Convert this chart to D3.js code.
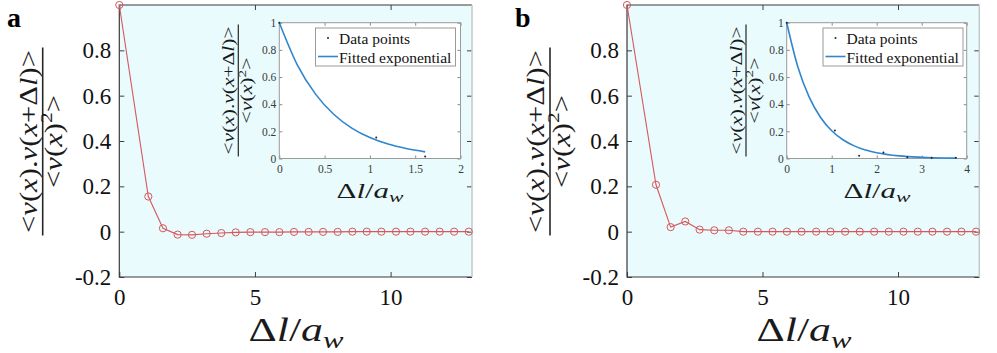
<!DOCTYPE html>
<html>
<head>
<meta charset="utf-8">
<script src="https://cdn.jsdelivr.net/npm/d3@7"></script>
<style>
  body { margin: 0; background: #fff; }
  svg { display: block; font-family: "Liberation Serif", "Times New Roman", serif; }
</style>
</head>
<body>
<script>
// lag values (delta l / a_w) shared by both panels
var lagX = [0, 1.07, 1.61, 2.15, 2.68, 3.22, 3.76, 4.29, 4.83, 5.37, 5.9, 6.44,
            6.98, 7.51, 8.05, 8.59, 9.12, 9.66, 10.2, 10.73, 11.27, 11.81, 12.34, 12.88];
// autocorrelation, panel a and b
var corrA = [1, 0.155, 0.015, -0.013, -0.014, -0.009, -0.006, -0.003, -0.002, -0.002, -0.002, -0.001,
             -0.001, -0.001, -0.001, 0, 0, 0, 0, 0, 0, 0, 0, 0];
var corrB = [1, 0.207, 0.02, 0.045, 0.009, 0.006, 0.006, 0, 0, 0, 0, 0,
             0, 0, 0, 0, 0, 0, 0, 0, 0, 0, 0, 0];
// number of points shown in each inset
var insetCountA = 3, insetCountB = 7;
// fitted exponential
var fitAX = [0, 0.2, 0.4, 0.6, 0.8, 1.0, 1.2, 1.4, 1.61];
var fitAY = [1, 0.688, 0.474, 0.326, 0.224, 0.154, 0.106, 0.073, 0.049];
var fitBX = [0, 0.25, 0.5, 0.75, 1, 1.25, 1.5, 1.75, 2, 2.5, 3, 3.5, 3.76];
var fitBY = [1, 0.672, 0.452, 0.304, 0.204, 0.138, 0.093, 0.062, 0.042, 0.019, 0.009, 0.004, 0.003];
// ticks
var mainXTicks = [0, 5, 10];
var mainYTicks = [-0.2, 0, 0.2, 0.4, 0.6, 0.8];
var insetXTicksA = [0, 0.5, 1, 1.5, 2];
var insetXTicksB = [0, 1, 2, 3, 4];
var insetYTicks = [0, 0.2, 0.4, 0.6, 0.8, 1];
var legendLabels = ["Data points", "Fitted exponential"];

var numPieces = [["<",""],["v","i"],["(",""],["x","i"],[")",""],[".",""],["v","i"],["(",""],["x","i"],
                 ["+",""],["Δ",""],["l","i"],[")",""],[">",""]];
var denPieces = [["<",""],["v","i"],["(",""],["x","i"],[")",""],["2","^"],[">",""]];
var xlabPieces = [["Δ",""],["l","i"],["/",""],["a","i"],["w","i_"]];

var SERIF = "'Liberation Serif', 'Times New Roman', serif";

var svg = d3.select("body").append("svg")
  .attr("width", 997)
  .attr("height", 353);

// writes latex-like text with tspans
function addMath(text, pieces, size) {
  var shift = 0;
  pieces.forEach(function (p) {
    var t = text.append("tspan").text(p[0]);
    var target = 0;
    if (p[1].indexOf("i") >= 0) t.attr("font-style", "italic");
    if (p[1].indexOf("^") >= 0) { t.attr("font-size", size * 0.7); target = -size * 0.42; }
    if (p[1].indexOf("_") >= 0) { t.attr("font-size", size * 0.7); target = size * 0.2; }
    if (target !== shift) { t.attr("dy", target - shift); shift = target; }
  });
}

function fracLabel(g, cfg) {
  g.append("line")
    .attr("x1", cfg.bar).attr("x2", cfg.bar)
    .attr("y1", cfg.cy - cfg.len / 2).attr("y2", cfg.cy + cfg.len / 2)
    .attr("stroke", "#262626").attr("stroke-width", cfg.size > 20 ? 1.6 : 1.2);
  var num = g.append("text")
    .attr("transform", "translate(" + cfg.numBase + "," + cfg.cy + ") rotate(-90)")
    .attr("text-anchor", "middle")
    .attr("font-family", SERIF)
    .attr("font-size", cfg.size)
    .attr("fill", "#1a1a1a")
    .attr("textLength", cfg.numLen).attr("lengthAdjust", "spacingAndGlyphs");
  addMath(num, numPieces, cfg.size);
  var den = g.append("text")
    .attr("transform", "translate(" + cfg.denBase + "," + cfg.cy + ") rotate(-90)")
    .attr("text-anchor", "middle")
    .attr("font-family", SERIF)
    .attr("font-size", cfg.size)
    .attr("fill", "#1a1a1a")
    .attr("textLength", cfg.denLen).attr("lengthAdjust", "spacingAndGlyphs");
  addMath(den, denPieces, cfg.size);
}

function xLabel(g, cx, base, size, len) {
  var t = g.append("text")
    .attr("x", cx).attr("y", base)
    .attr("text-anchor", "middle")
    .attr("font-family", SERIF)
    .attr("font-size", size)
    .attr("fill", "#1a1a1a")
    .attr("textLength", len).attr("lengthAdjust", "spacingAndGlyphs");
  addMath(t, xlabPieces, size);
}

function fmt(d) { return String(+d.toFixed(1)); }

function drawPanel(p) {
  var g = svg.append("g");

  // main axes
  var x = d3.scaleLinear().domain([0, 13]).range([p.left, p.right]);
  var y = d3.scaleLinear().domain([-0.2, 1]).range([277, 5]);

  g.append("rect")
    .attr("x", p.left).attr("y", 5)
    .attr("width", p.right - p.left).attr("height", 272)
    .attr("fill", "#e9fbfc");

  var ax = g.append("g").attr("transform", "translate(0,277)")
    .call(d3.axisBottom(x).tickValues(mainXTicks).tickSize(-5).tickPadding(12).tickFormat(fmt));
  var ay = g.append("g").attr("transform", "translate(" + p.left + ",0)")
    .call(d3.axisLeft(y).tickValues(mainYTicks).tickSize(-5).tickPadding(8).tickFormat(fmt));
  g.append("g").attr("transform", "translate(0,5)")
    .call(d3.axisTop(x).tickValues(mainXTicks).tickSize(-5).tickFormat(""));
  g.append("g").attr("transform", "translate(" + p.right + ",0)")
    .call(d3.axisRight(y).tickValues(mainYTicks).tickSize(-5).tickFormat(""));
  g.selectAll(".domain").remove();
  g.selectAll(".tick line").attr("stroke", "#404040");
  [ax, ay].forEach(function (a) {
    a.attr("font-family", SERIF);
    a.selectAll("text").attr("font-size", 23).attr("fill", "#111");
  });

  // frame
  g.append("path")
    .attr("d", "M" + p.right + ",5H" + p.left + "V277H" + p.right)
    .attr("fill", "none").attr("stroke", "#3a3a3a").attr("stroke-width", 1.2);
  g.append("line")
    .attr("x1", p.right).attr("x2", p.right).attr("y1", 5).attr("y2", 277)
    .attr("stroke", "#c4c9ca").attr("stroke-width", 1.5);

  var pts = lagX.map(function (v, i) { return [v, p.corr[i]]; });
  g.append("path")
    .datum(pts)
    .attr("fill", "none")
    .attr("stroke", "#d6575c")
    .attr("stroke-width", 1.1)
    .attr("d", d3.line().x(function (d) { return x(d[0]); }).y(function (d) { return y(d[1]); }));
  g.selectAll(".mk").data(pts).enter().append("circle")
    .attr("class", "mk")
    .attr("cx", function (d) { return x(d[0]); })
    .attr("cy", function (d) { return y(d[1]); })
    .attr("r", 3.6)
    .attr("fill", "none")
    .attr("stroke", "#d6575c")
    .attr("stroke-width", 1);

  fracLabel(g, { bar: p.bar, cy: 141.5, len: 188, numBase: p.bar - 6, denBase: p.bar + 19.5,
                 size: 25, numLen: 183, denLen: 93 });
  xLabel(g, p.xlabX, 341, 33, 95);

  // panel letter
  g.append("text").attr("x", p.letterX).attr("y", 27)
    .attr("font-family", SERIF)
    .attr("font-size", 28).attr("font-weight", "bold").text(p.letter);

  // inset
  var ix = d3.scaleLinear().domain([0, p.insetXMax]).range([p.iLeft, p.iRight]);
  var iy = d3.scaleLinear().domain([0, 1]).range([158.5, 22.7]);

  g.append("rect")
    .attr("x", p.iLeft).attr("y", 22.7)
    .attr("width", p.iRight - p.iLeft).attr("height", 158.5 - 22.7)
    .attr("fill", "#fff");
  var ig = g.append("g");
  var iax = ig.append("g").attr("transform", "translate(0,158.5)")
    .call(d3.axisBottom(ix).tickValues(p.insetXTicks).tickSize(-3).tickPadding(6).tickFormat(fmt));
  var iay = ig.append("g").attr("transform", "translate(" + p.iLeft + ",0)")
    .call(d3.axisLeft(iy).tickValues(insetYTicks).tickSize(-3).tickPadding(3).tickFormat(fmt));
  ig.append("g").attr("transform", "translate(0,22.7)")
    .call(d3.axisTop(ix).tickValues(p.insetXTicks).tickSize(-3).tickFormat(""));
  ig.append("g").attr("transform", "translate(" + p.iRight + ",0)")
    .call(d3.axisRight(iy).tickValues(insetYTicks).tickSize(-3).tickFormat(""));
  ig.selectAll(".domain").remove();
  ig.selectAll(".tick line").attr("stroke", "#8a8a8a");
  [iax, iay].forEach(function (a) {
    a.attr("font-family", SERIF);
    a.selectAll("text").attr("font-size", 11.5).attr("fill", "#3a3a3a");
  });
  ig.append("rect")
    .attr("x", p.iLeft).attr("y", 22.7)
    .attr("width", p.iRight - p.iLeft).attr("height", 158.5 - 22.7)
    .attr("fill", "none").attr("stroke", "#9a9a9a").attr("stroke-width", 1);

  var fit = p.fitX.map(function (v, i) { return [v, p.fitY[i]]; });
  ig.append("path")
    .datum(fit)
    .attr("fill", "none")
    .attr("stroke", "#2f86cf")
    .attr("stroke-width", 1.6)
    .attr("d", d3.line().curve(d3.curveMonotoneX)
      .x(function (d) { return ix(d[0]); }).y(function (d) { return iy(d[1]); }));
  ig.selectAll(".dp").data(pts.slice(0, p.insetCount)).enter().append("circle")
    .attr("class", "dp")
    .attr("cx", function (d) { return ix(d[0]); })
    .attr("cy", function (d) { return iy(d[1]); })
    .attr("r", 1)
    .attr("fill", "#222");

  fracLabel(ig, { bar: p.iBar, cy: 90.5, len: 132, numBase: p.iBar - 4, denBase: p.iBar + 14,
                  size: 16, numLen: 128, denLen: 66 });
  xLabel(ig, p.iXlabX, 198, 22, 67);

  // legend
  var lg = ig.append("g").attr("transform", "translate(" + p.legX + ",28)");
  lg.append("rect").attr("width", p.legW).attr("height", 38)
    .attr("fill", "#fff").attr("stroke", "#9a9a9a").attr("stroke-width", 1);
  lg.append("circle").attr("cx", 12.5).attr("cy", 10).attr("r", 1).attr("fill", "#222");
  lg.append("line").attr("x1", 2.5).attr("x2", 22.5).attr("y1", 28.5).attr("y2", 28.5)
    .attr("stroke", "#2f86cf").attr("stroke-width", 1.6);
  lg.selectAll(".lt").data(legendLabels).enter().append("text")
    .attr("class", "lt")
    .attr("x", 23.5)
    .attr("y", function (d, i) { return 15.5 + i * 19; })
    .attr("font-family", SERIF)
    .attr("font-size", 15.5)
    .attr("fill", "#111")
    .text(function (d) { return d; });
}

drawPanel({ letter: "a", letterX: 7, left: 119.3, right: 472, corr: corrA, bar: 42.7, xlabX: 296,
            iLeft: 279.3, iRight: 460.5, insetXMax: 2, insetXTicks: insetXTicksA, insetCount: insetCountA,
            fitX: fitAX, fitY: fitAY, iBar: 238.3, iXlabX: 370, legX: 315.5, legW: 140 });
drawPanel({ letter: "b", letterX: 515, left: 627, right: 979.3, corr: corrB, bar: 550, xlabX: 804,
            iLeft: 786.7, iRight: 966.7, insetXMax: 4, insetXTicks: insetXTicksB, insetCount: insetCountB,
            fitX: fitBX, fitY: fitBY, iBar: 746, iXlabX: 877, legX: 823, legW: 140 });
</script>
</body>
</html>
